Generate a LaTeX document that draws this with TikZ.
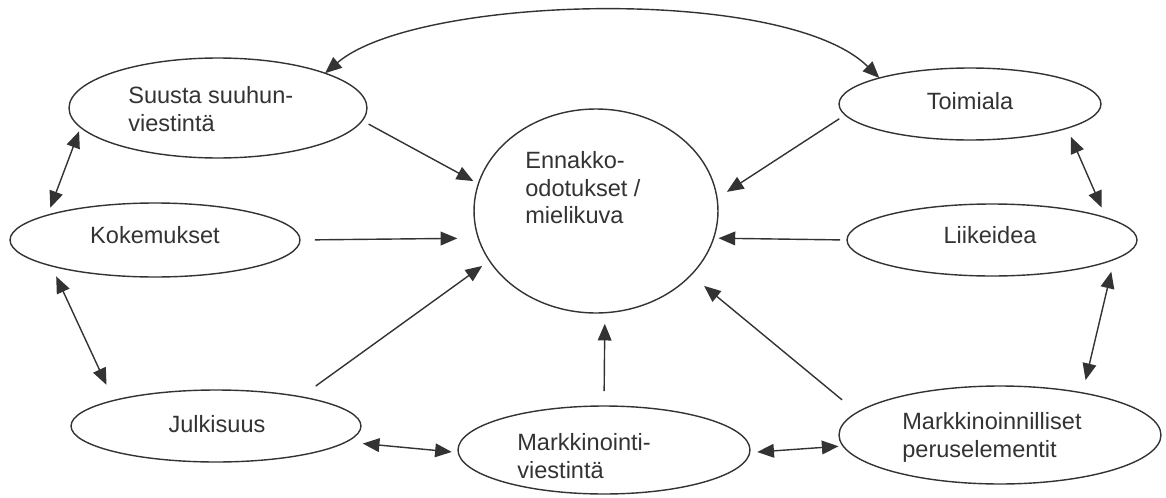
\documentclass[tikz,border=0pt]{standalone}
\usepackage{fontspec}
\setmainfont{Liberation Sans}
\usetikzlibrary{shapes.geometric,arrows.meta}
\definecolor{ink}{HTML}{333333}

\begin{document}
\begin{tikzpicture}[x=0.02cm,y=-0.02cm,
    oval/.style={draw=ink,line width=0.8pt,ellipse,inner sep=0pt,outer sep=0pt},
    txt/.style={text=ink,inner sep=0pt,align=left,font=\fontsize{13.4pt}{15.8pt}\selectfont},
    con/.style={draw=ink,line width=0.8pt},
    >={Triangle[length=9.5pt,width=7.8pt]}]
    \useasboundingbox (0,0) rectangle (1166,497);
    % ellipses
    \node[oval,minimum width=5.96cm,minimum height=2cm] (suusta) at (218,108){};
    \node[oval,minimum width=5.8cm,minimum height=1.48cm] (koke) at (155,240){};
    \node[oval,minimum width=5.8cm,minimum height=1.44cm] (julk) at (216,426){};
    \node[oval,minimum width=5.84cm,minimum height=1.76cm] (mark) at (604,450){};
    \node[oval,minimum width=6.44cm,minimum height=1.96cm] (peru) at (1000,435){};
    \node[oval,minimum width=5.8cm,minimum height=1.44cm] (liike) at (992,240){};
    \node[oval,minimum width=5.24cm,minimum height=1.44cm] (toim) at (970,104){};
    \node[oval,minimum width=4.88cm,minimum height=4.08cm] (odot) at (596,211){};
    % texts
    \node[txt,anchor=north west] (suusta-t) at (128,86){Suusta suuhun-\\viestintä};
    \node[txt,anchor=base] (koke-t) at (155,243){Kokemukset};
    \node[txt,anchor=base] (julk-t) at (217,432){Julkisuus};
    \node[txt,anchor=north west] (mark-t) at (517,433){Markkinointi-\\viestintä};
    \node[txt,anchor=north west] (peru-t) at (902,412){Markkinoinnilliset\\peruselementit};
    \node[txt,anchor=base] (liike-t) at (990,243){Liikeidea};
    \node[txt,anchor=base] (toim-t) at (970,109){Toimiala};
    \node[txt,anchor=north west] (odot-t) at (525,151){Ennakko-\\odotukset /\\mielikuva};
    % top curve
    \draw[con,<->] (suusta.18.1) .. controls (417,-5) and (785,-15) .. (toim.164.7);
    % into the centre
    \draw[con,->,shorten <=4.2pt,shorten >=3.3pt] (suusta.-5.4) -- (odot.167.5);
    \draw[con,->,shorten <=8.5pt,shorten >=12pt] (koke.east) -- (odot.193.9);
    \draw[con,->,shorten <=10.5pt,shorten >=5.1pt] (julk.19.3) -- (odot.205.7);
    \draw[con,->,shorten <=8.5pt,shorten >=6.3pt] (mark.north) -- (odot.-85.5);
    \draw[con,->,shorten <=11.2pt,shorten >=9.7pt] (peru.171.6) -- (odot.-34.7);
    \draw[con,->,shorten <=4pt,shorten >=2.8pt] (liike.west) -- (odot.-13.9);
    \draw[con,->,shorten <=4pt,shorten >=6.7pt] (toim.185.7) -- (odot.6);
    % round the ring
    \draw[con,<->,shorten <=2.4pt,shorten >=4.5pt] (suusta.188.4) -- (koke.167.1);
    \draw[con,<->,shorten <=6.6pt,shorten >=9.8pt] (koke.194.6) -- (julk.166.2);
    \draw[con,<->,shorten <=9.6pt,shorten >=3.7pt] (julk.-7.2) -- (mark.181.4);
    \draw[con,<->,shorten <=4.3pt,shorten >=2.6pt] (mark.-1.4) -- (peru.184.7);
    \draw[con,<->,shorten <=7.2pt,shorten >=7.5pt] (liike.-9.9) -- (peru.27.1);
    \draw[con,<->,shorten <=5.3pt,shorten >=6.3pt] (toim.-14.2) -- (liike.11.5);
\end{tikzpicture}
\end{document}
